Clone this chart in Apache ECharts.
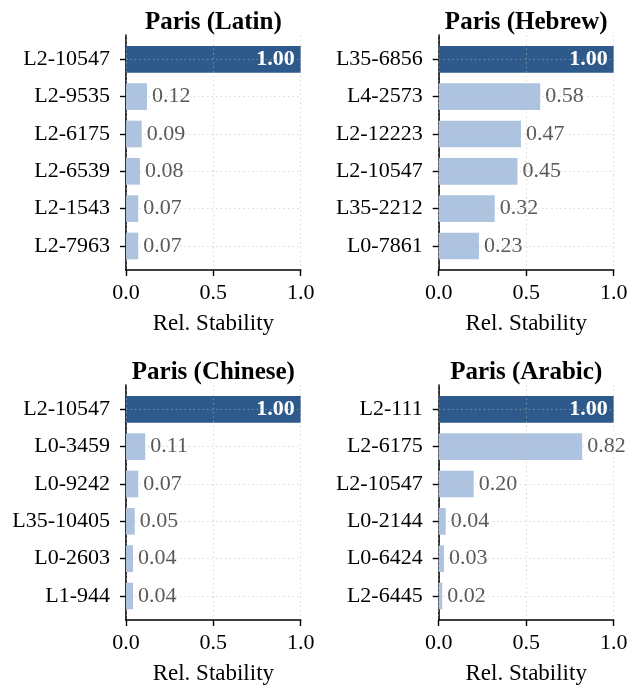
<!DOCTYPE html>
<html>
<head>
<meta charset="utf-8">
<script src="https://cdn.jsdelivr.net/npm/echarts@6/dist/echarts.min.js"></script>
<style>
  html, body { margin: 0; padding: 0; background: #fff; }
  #chart { width: 637px; height: 687px; }
</style>
</head>
<body>
<div id="chart"></div>
<script>
// Relative stability of the top features for "Paris" in four scripts
const panelTitles = ['Paris (Latin)', 'Paris (Hebrew)', 'Paris (Chinese)', 'Paris (Arabic)'];

const latinFeatures = ['L2-10547', 'L2-9535', 'L2-6175', 'L2-6539', 'L2-1543', 'L2-7963'];
const latinValues = [1.00, 0.12, 0.09, 0.08, 0.07, 0.07];

const hebrewFeatures = ['L35-6856', 'L4-2573', 'L2-12223', 'L2-10547', 'L35-2212', 'L0-7861'];
const hebrewValues = [1.00, 0.58, 0.47, 0.45, 0.32, 0.23];

const chineseFeatures = ['L2-10547', 'L0-3459', 'L0-9242', 'L35-10405', 'L0-2603', 'L1-944'];
const chineseValues = [1.00, 0.11, 0.07, 0.05, 0.04, 0.04];

const arabicFeatures = ['L2-111', 'L2-6175', 'L2-10547', 'L0-2144', 'L0-6424', 'L2-6445'];
const arabicValues = [1.00, 0.82, 0.20, 0.04, 0.03, 0.02];

const xTickValues = [0, 0.5, 1.0];
const xAxisName = 'Rel. Stability';

const panels = [
  { title: panelTitles[0], features: latinFeatures, values: latinValues },
  { title: panelTitles[1], features: hebrewFeatures, values: hebrewValues },
  { title: panelTitles[2], features: chineseFeatures, values: chineseValues },
  { title: panelTitles[3], features: arabicFeatures, values: arabicValues }
];

const FONT = '"Liberation Serif", "DejaVu Serif", serif';
const DARK = '#2d5a8b';
const LIGHT = '#adc3df';
const GRID_LINE = { color: 'rgba(185,185,185,0.55)', type: [1.5, 3], width: 1 };

// frame box (axes spines) and bar band box for each panel, in pixels
const W = 637, H = 687;
const cols = [{ left: 126, right: W - 300.7 }, { left: 438.7, right: W - 613.7 }];
const rows = [
  { frameTop: 35, frameBottom: 270, bandTop: 59.3, bandBottom: 246, titleTop: 5 },
  { frameTop: 385, frameBottom: 620, bandTop: 409.3, bandBottom: 596, titleTop: 355 }
];

const grid = [], xAxis = [], yAxis = [], series = [], title = [];

panels.forEach((p, i) => {
  const c = cols[i % 2], r = rows[Math.floor(i / 2)];
  const fa = 2 * i, ba = 2 * i + 1;

  grid.push({ left: c.left, right: c.right, top: r.frameTop, bottom: H - r.frameBottom });
  grid.push({ left: c.left, right: c.right, top: r.bandTop, bottom: H - r.bandBottom });

  title.push({
    text: p.title,
    left: (c.left + (W - c.right)) / 2 - 5,
    top: r.titleTop,
    textAlign: 'center',
    textStyle: { fontFamily: FONT, fontSize: 25, fontWeight: 'bold', color: '#000' }
  });

  // outer frame: bottom value axis with ticks, name and vertical dotted grid
  xAxis.push({
    gridIndex: fa, type: 'value', min: 0, max: 1, interval: 0.5, z: 3,
    axisLine: { show: true, lineStyle: { color: '#000', width: 1.6 } },
    axisTick: { show: true, inside: false, length: 6, lineStyle: { color: '#000', width: 1.4 } },
    axisLabel: {
      show: true, margin: 12, fontFamily: FONT, fontSize: 22, color: '#000',
      formatter: v => xTickValues.includes(v) ? v.toFixed(1) : ''
    },
    splitLine: { show: true, lineStyle: GRID_LINE },
    name: xAxisName, nameLocation: 'middle', nameGap: 42,
    nameTextStyle: { fontFamily: FONT, fontSize: 23, color: '#000' }
  });
  yAxis.push({
    gridIndex: fa, type: 'value', min: 0, max: 1,
    axisLine: { show: true, lineStyle: { color: '#000', width: 1.6 } },
    axisTick: { show: false }, axisLabel: { show: false }, splitLine: { show: false }
  });

  // inner band: category axis that carries the bars
  xAxis.push({ gridIndex: ba, type: 'value', min: 0, max: 1, show: false });
  yAxis.push({
    gridIndex: ba, type: 'category', data: p.features, inverse: true, boundaryGap: false, z: 3,
    axisLine: { show: false },
    axisTick: { show: true, inside: false, length: 6, lineStyle: { color: '#000', width: 1.4 } },
    axisLabel: { show: true, margin: 16, fontFamily: FONT, fontSize: 22, color: '#000' },
    splitLine: { show: true, lineStyle: GRID_LINE }
  });

  series.push({
    type: 'bar', xAxisIndex: ba, yAxisIndex: ba, barWidth: 26.7, clip: false, z: 2,
    data: p.values.map((v, k) => ({
      value: v,
      itemStyle: { color: k === 0 ? DARK : LIGHT },
      label: k === 0
        ? { show: true, position: 'insideRight', distance: 6, color: '#fff', fontWeight: 'bold',
            fontFamily: FONT, fontSize: 22, formatter: d => d.value.toFixed(2) }
        : { show: true, position: 'right', distance: 5, color: '#595959', fontWeight: 'normal',
            fontFamily: FONT, fontSize: 22, formatter: d => d.value.toFixed(2) }
    }))
  });
});

const chart = echarts.init(document.getElementById('chart'), null, { renderer: 'canvas' });
chart.setOption({
  animation: false,
  backgroundColor: '#fff',
  title, grid, xAxis, yAxis, series
});
</script>
</body>
</html>
